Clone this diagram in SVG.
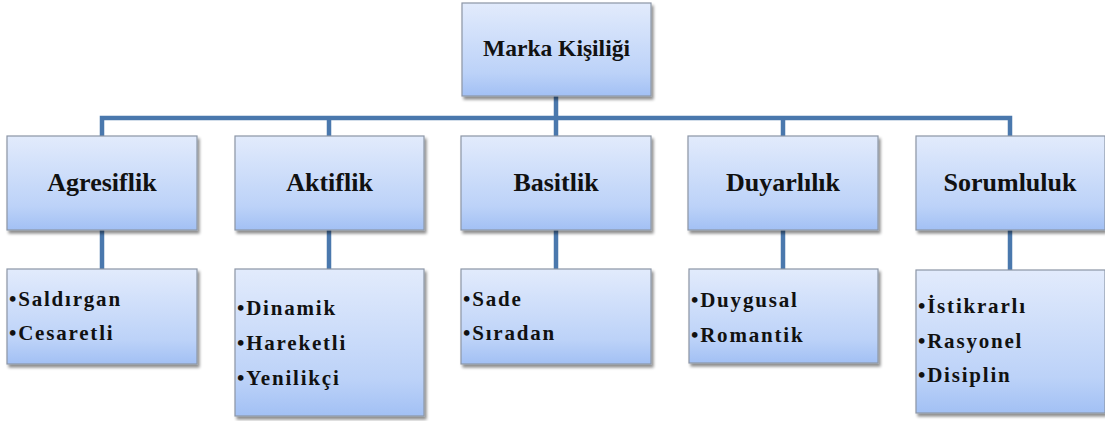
<svg xmlns="http://www.w3.org/2000/svg" width="1105" height="421" viewBox="0 0 1105 421" font-family="'Liberation Serif', 'Times New Roman', serif">
<defs>
<linearGradient id="g" x1="0" y1="0" x2="0" y2="1">
<stop offset="0" stop-color="#e2ebfc"/>
<stop offset="0.75" stop-color="#bcd2f8"/>
<stop offset="1" stop-color="#a2c0f4"/>
</linearGradient>
<filter id="sh" x="-10%" y="-10%" width="125%" height="130%">
<feGaussianBlur in="SourceAlpha" stdDeviation="1.5"/>
<feOffset dx="1.5" dy="2.5" result="b"/>
<feComponentTransfer><feFuncA type="linear" slope="0.45"/></feComponentTransfer>
<feMerge><feMergeNode/><feMergeNode in="SourceGraphic"/></feMerge>
</filter>
</defs>
<style>
.box{fill:url(#g);stroke:#8c96a6;stroke-width:1.2;filter:url(#sh)}
text{font-family:'Liberation Serif','Times New Roman',serif;font-weight:bold;fill:#111}
.h{font-size:26px;text-anchor:middle}
.r{font-size:23.5px;text-anchor:middle}
.l{font-size:21px;letter-spacing:1.8px}
.c{fill:none;stroke:#4a78ad;stroke-width:4.5}
</style>
<g id="connectors">
<path class="c" d="M556 96V118M102 136V118H1010V136M329 118V136M556 118V136M783 118V136"/>
<path class="c" d="M102 230V269M329 230V269M556 230V269M783 230V269M1010 230V270"/>
</g>
<g id="root"><rect class="box" x="462" y="3" width="189" height="93"/><text class="r" x="556.5" y="56">Marka Kişiliği</text></g>
<g id="agresiflik"><rect class="box" x="7" y="136" width="190" height="94"/><text class="h" x="102" y="191">Agresiflik</text></g>
<g id="aktiflik"><rect class="box" x="235" y="136" width="189" height="94"/><text class="h" x="329.5" y="191">Aktiflik</text></g>
<g id="basitlik"><rect class="box" x="461" y="136" width="190" height="94"/><text class="h" x="556" y="191">Basitlik</text></g>
<g id="duyarlilik"><rect class="box" x="688" y="136" width="190" height="94"/><text class="h" x="783" y="191">Duyarlılık</text></g>
<g id="sorumluluk"><rect class="box" x="916" y="136" width="189" height="94"/><text class="h" x="1010" y="191">Sorumluluk</text></g>
<g id="agresiflik-items"><rect class="box" x="7" y="269" width="190" height="95"/><text class="l" x="9" y="306">•Saldırgan</text><text class="l" x="9" y="340">•Cesaretli</text></g>
<g id="aktiflik-items"><rect class="box" x="235" y="269" width="189" height="147"/><text class="l" x="237" y="315">•Dinamik</text><text class="l" x="237" y="350">•Hareketli</text><text class="l" x="237" y="385">•Yenilikçi</text></g>
<g id="basitlik-items"><rect class="box" x="461" y="269" width="190" height="95"/><text class="l" x="463" y="306">•Sade</text><text class="l" x="463" y="340">•Sıradan</text></g>
<g id="duyarlilik-items"><rect class="box" x="689" y="269" width="189" height="94"/><text class="l" x="691" y="307">•Duygusal</text><text class="l" x="691" y="342">•Romantik</text></g>
<g id="sorumluluk-items"><rect class="box" x="916" y="270" width="189" height="143"/><text class="l" x="918" y="313">•İstikrarlı</text><text class="l" x="918" y="348">•Rasyonel</text><text class="l" x="918" y="382">•Disiplin</text></g>
</svg>
